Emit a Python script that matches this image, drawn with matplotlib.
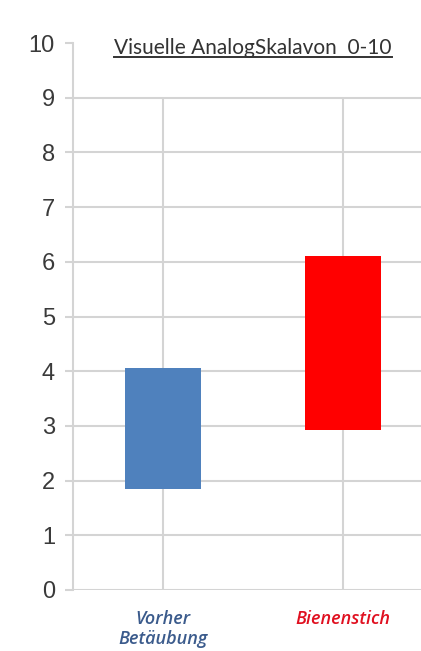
import matplotlib.pyplot as plt
from matplotlib.lines import Line2D

# Floating bars: pain range on the visual analog scale
categories = ["Vorher\nBetäubung", "Bienenstich"]
lows = [1.85, 2.93]
highs = [4.05, 6.1]
bar_colors = ["#4f81bd", "#ff0000"]
label_colors = ["#3b5b8c", "#e01020"]
title = "Visuelle AnalogSkalavon  0-10"

fig = plt.figure(figsize=(4.21, 6.51), dpi=100)
ax = fig.add_axes([73 / 421, 61 / 651, 1 - 73 / 421, 547 / 651])

x = [1, 2]
grid_c = "#d4d4d4"

# horizontal gridlines 0..9, vertical lines at the categories
for v in range(10):
    ax.axhline(v, color=grid_c, lw=1.5, zorder=0)
ax.vlines(x, 0, 9, color=grid_c, lw=1.5, zorder=0)

ax.bar(x, [h - l for l, h in zip(lows, highs)], bottom=lows, width=0.42,
       color=bar_colors, zorder=2)

ax.set_xlim(0.5, 2.5 - 12 / 180)
ax.set_ylim(0, 10)
ax.set_yticks(range(11))
ax.tick_params(axis="y", labelsize=17, labelcolor="#3a3a3a", color=grid_c,
               length=6, width=1.5, pad=7)
for lab in ax.get_yticklabels():
    lab.set_fontfamily("Liberation Sans")
ax.set_xticks([])
for s in ["top", "right", "bottom"]:
    ax.spines[s].set_visible(False)
ax.spines["left"].set_color(grid_c)
ax.spines["left"].set_linewidth(1.5)
ax.spines["left"].set_bounds(0, 10)

for xi, name, c in zip(x, categories, label_colors):
    ax.text(xi, -0.36, name, ha="center", va="top", color=c, fontsize=13,
            fontstyle="italic", fontweight="semibold", fontfamily="Open Sans",
            linespacing=1.15)

# title with an underline drawn beneath its extent
t = fig.text(253 / 421, 1 - 48 / 651, title, ha="center", va="center",
             fontsize=15, color="#333333", fontfamily="Lato")
fig.canvas.draw()
bb = t.get_window_extent().transformed(fig.transFigure.inverted())
fig.add_artist(Line2D([bb.x0, bb.x1], [bb.y0 + 0.001, bb.y0 + 0.001],
                      transform=fig.transFigure, color="#333333", lw=1.4))

fig.savefig("out.png", dpi=100)
